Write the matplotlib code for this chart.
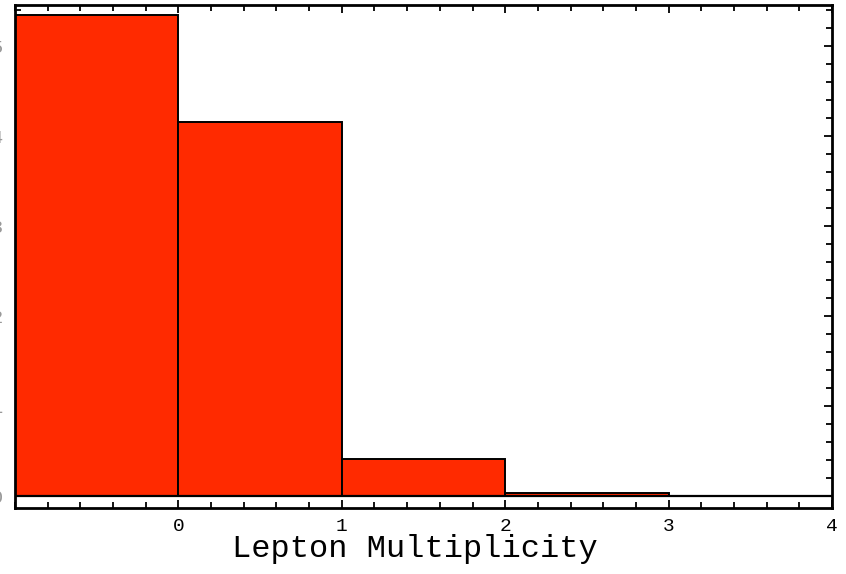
import matplotlib.pyplot as plt
from matplotlib.ticker import MultipleLocator, FixedLocator

# fraction of events per lepton multiplicity bin
bin_left = [-1, 0, 1, 2]
fraction = [0.534, 0.4155, 0.041, 0.003]
xtick_vals = [0, 1, 2, 3, 4]
ytick_vals = [0.0, 0.1, 0.2, 0.3, 0.4, 0.5]

plt.rcParams['font.family'] = ['Liberation Mono', 'DejaVu Sans Mono']

fig = plt.figure(figsize=(8.46, 5.74), dpi=100)
ax = fig.add_axes([15 / 846, 66 / 574, 817 / 846, 503 / 574])

ax.bar(bin_left, fraction, width=1.0, align='edge', color='#ff2a00',
       edgecolor='black', linewidth=1.4, zorder=2)
ax.axhline(0, color='black', linewidth=1.6, zorder=3)

ax.set_xlim(-1, 4)
ax.set_ylim(-0.0133, 0.5456)

ax.xaxis.set_major_locator(FixedLocator(xtick_vals))
ax.xaxis.set_minor_locator(MultipleLocator(0.2))
ax.yaxis.set_major_locator(FixedLocator(ytick_vals))
ax.yaxis.set_minor_locator(MultipleLocator(0.02))
ax.set_yticklabels([f"{v:.1f}" for v in ytick_vals])

ax.tick_params(which='both', direction='in', top=True, right=True,
               color='black', width=1.3)
ax.tick_params(which='major', length=6)
ax.tick_params(which='minor', length=4)
ax.tick_params(axis='x', labelsize=14, pad=7)
ax.tick_params(axis='y', labelsize=14, pad=8, labelcolor='#999999')

for side in ax.spines.values():
    side.set_linewidth(2)

ax.set_xlabel("Lepton Multiplicity", fontsize=23)
ax.xaxis.set_label_coords(0.4896, -0.052)
ax.xaxis.label.set_verticalalignment('top')

fig.savefig("out.png", dpi=100)
